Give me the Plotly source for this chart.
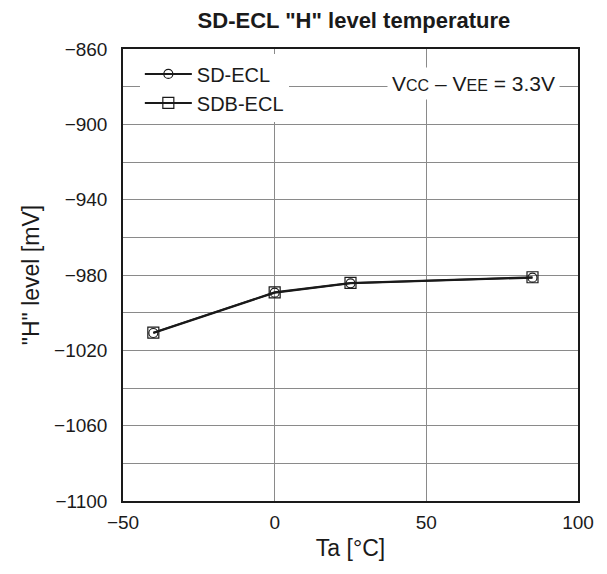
import plotly.graph_objs as go

ta = [-40, 0, 25, 85]
sd_ecl = [-1010.8, -989.4, -984.4, -981.4]
sdb_ecl = [-1010.6, -989.2, -984.2, -981.2]

y_ticks = [-860, -900, -940, -980, -1020, -1060, -1100]
y_labels = ['\u2212860', '\u2212900', '\u2212940', '\u2212980', '\u22121020', '\u22121060', '\u22121100']
x_ticks = [-50, 0, 50, 100]
x_labels = ['\u221250', '0', '50', '100']

font = 'Liberation Sans, Arial, sans-serif'

fig = go.Figure()
fig.add_trace(go.Scatter(x=ta, y=sd_ecl, name='SD-ECL', mode='lines+markers',
                         line=dict(color='#1a1a1a', width=2),
                         marker=dict(symbol='circle-open', size=9,
                                     color='#1a1a1a', line=dict(width=1.2))))
fig.add_trace(go.Scatter(x=ta, y=sdb_ecl, name='SDB-ECL', mode='lines+markers',
                         line=dict(color='#1a1a1a', width=2),
                         marker=dict(symbol='square-open', size=11,
                                     color='#1a1a1a', line=dict(width=1.2))))

fig.add_annotation(x=0.77, y=0.923, xref='paper', yref='paper',
                   xanchor='center', yanchor='middle',
                   text="V<span style='font-size:16px'>CC</span> \u2013 V<span style='font-size:16px'>EE</span> = 3.3V",
                   showarrow=False, bgcolor='white', borderpad=4,
                   font=dict(size=21, color='#1a1a1a', family=font))

# page body adds 8px, so the figure is 8px smaller than the window
fig.update_layout(
    width=599, height=566,
    margin={'l': 115, 'r': 29, 't': 41, 'b': 73},
    paper_bgcolor='white', plot_bgcolor='white',
    font=dict(family=font, size=19, color='#1a1a1a'),
    title=dict(text='<b>SD-ECL "H" level temperature</b>', x=0.5775, xanchor='center',
               y=0.979, yanchor='middle', font=dict(size=22)),
    legend=dict(x=0.037, y=0.988, xanchor='left', yanchor='top',
                bgcolor='white', font=dict(size=20), itemwidth=47,
                tracegroupgap=0),
)
fig.update_xaxes(range=[-50, 100], tickvals=x_ticks, ticktext=x_labels,
                 showgrid=True, gridcolor='#8a8a8a', gridwidth=1,
                 showline=True, linecolor='#1a1a1a', linewidth=1.5, mirror=True,
                 zeroline=False, ticks='', ticklabelstandoff=3,
                 title_text='Ta [°C]', title_standoff=8)
fig.update_yaxes(range=[-1100, -860], tickvals=y_ticks, ticktext=y_labels,
                 showgrid=True, gridcolor='#8a8a8a', gridwidth=1,
                 minor=dict(dtick=20, showgrid=True, gridcolor='#8a8a8a', gridwidth=1),
                 showline=True, linecolor='#1a1a1a', linewidth=1.5, mirror=True,
                 zeroline=False, ticks='', ticklabelstandoff=10,
                 title_text='"H" level [mV]', title_standoff=8)

fig.write_html("out.html")
